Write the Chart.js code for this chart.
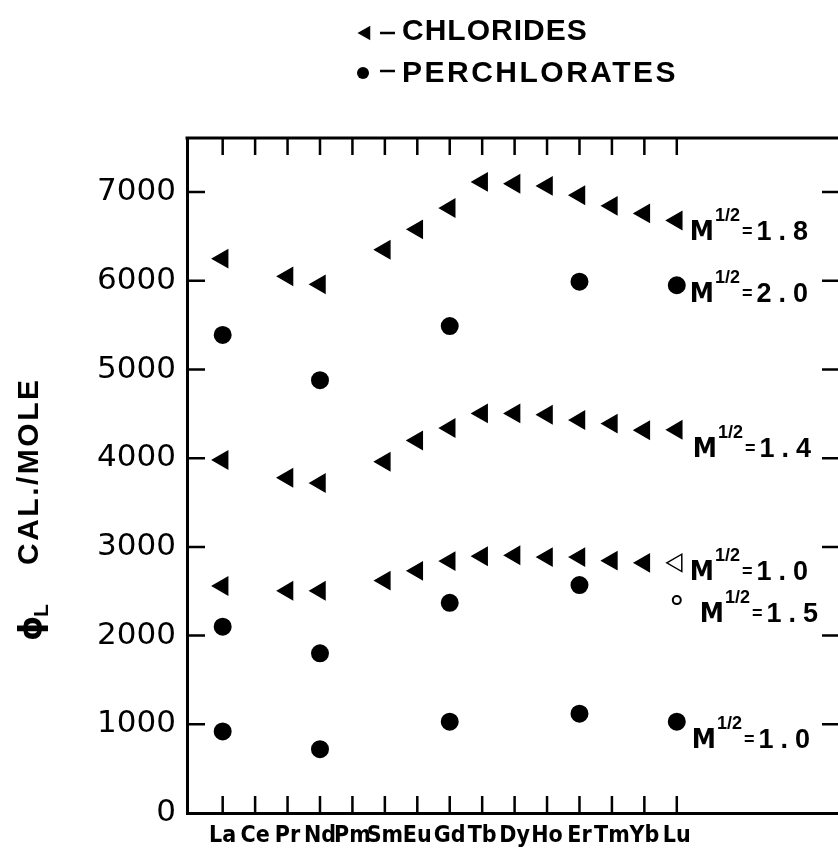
<!DOCTYPE html>
<html>
<head>
<meta charset="utf-8">
<title>Chlorides and perchlorates</title>
<script src="https://cdn.jsdelivr.net/npm/chart.js@4.4.1/dist/chart.umd.min.js"></script>
<style>
  html, body { margin: 0; padding: 0; background: #fff; overflow: hidden; }
  #chart { display: block; }
</style>
</head>
<body>
<canvas id="chart" width="838" height="855"></canvas>
<script>
// categories (rare earths) and y ticks
const elements = ['La', 'Ce', 'Pr', 'Nd', 'Pm', 'Sm', 'Eu', 'Gd', 'Tb', 'Dy', 'Ho', 'Er', 'Tm', 'Yb', 'Lu'];
const yTicks = [0, 1000, 2000, 3000, 4000, 5000, 6000, 7000];

// chlorides, phi_L cal/mole
const chl18 = [6250, null, 6050, 5960, null, 6350, 6580, 6820, 7115, 7095, 7070, 6965, 6845, 6760, 6680];
const chl14 = [3980, null, 3780, 3720, null, 3960, 4200, 4340, 4505, 4505, 4490, 4430, 4390, 4315, 4320];
const chl10 = [2560, null, 2505, 2505, null, 2620, 2730, 2840, 2895, 2905, 2885, 2885, 2845, 2820, 2820];

// perchlorates
const per20 = [5390, null, null, 4880, null, null, null, 5490, null, null, null, 5990, null, null, 5950];
const per15 = [2100, null, null, 1800, null, null, null, 2370, null, null, null, 2570, null, null, 2400];
const per10 = [920, null, null, 720, null, null, null, 1030, null, null, null, 1120, null, null, 1030];

const NUM_FONT = "'DejaVu Sans', sans-serif";
const TEXT_FONT = "'Liberation Sans', Arial, sans-serif";

// use a condensed face for the element names if one is installed
function hasFont(name) {
  const c = document.createElement('canvas').getContext('2d');
  const probe = 'LaCePrNdPmSmEu mmwwii';
  c.font = 'bold 40px monospace';
  const base = c.measureText(probe).width;
  c.font = `bold 40px '${name}', monospace`;
  return c.measureText(probe).width !== base;
}
const narrowName = ['Liberation Sans Narrow', 'DejaVu Sans Condensed', 'Roboto Condensed'].find(hasFont);
const LABEL_FONT = narrowName ? `'${narrowName}', sans-serif` : "Roboto, 'Liberation Sans', sans-serif";
const LABEL_SIZE = narrowName ? 23 : 21;

function toPoints(values) {
  return values.map((v, i) => ({ x: i, y: v })).filter(p => p.y !== null);
}

// last point drawn open
function openLast(values, fill) {
  const pts = toPoints(values);
  return pts.map((p, i) => (i === pts.length - 1 ? '#fff' : fill));
}

function triangleSet(label, values, tag, bg) {
  return {
    label: label,
    data: toPoints(values),
    pointStyle: 'triangle',
    pointRotation: -90,
    pointRadius: 10,
    pointBackgroundColor: bg || '#000',
    pointBorderColor: '#000',
    pointBorderWidth: 1.5,
    tag: tag
  };
}

function circleSet(label, values, tag, radius, bg) {
  return {
    label: label,
    data: toPoints(values),
    pointStyle: 'circle',
    pointRadius: radius || 8,
    pointBackgroundColor: bg || '#000',
    pointBorderColor: '#000',
    pointBorderWidth: 2,
    tag: tag
  };
}

// inward ticks and the top frame (right edge runs off the picture)
const framePlugin = {
  id: 'frame',
  afterDraw(chart) {
    const { ctx, chartArea: a, scales: { x, y } } = chart;
    const right = a.right + 3;
    ctx.save();
    ctx.strokeStyle = '#000';
    ctx.lineWidth = 3;
    ctx.beginPath();
    ctx.moveTo(a.left - 1.5, a.top);
    ctx.lineTo(right, a.top);
    ctx.stroke();

    ctx.lineWidth = 2.5;
    ctx.beginPath();
    elements.forEach((e, i) => {
      const px = x.getPixelForValue(i);
      ctx.moveTo(px, a.top);
      ctx.lineTo(px, a.top + 17);
      ctx.moveTo(px, a.bottom);
      ctx.lineTo(px, a.bottom - 17);
    });
    yTicks.forEach(v => {
      if (v === 0) return;
      const py = y.getPixelForValue(v);
      ctx.moveTo(a.left, py);
      ctx.lineTo(a.left + 18, py);
      ctx.moveTo(right, py);
      ctx.lineTo(right - 19, py);
    });
    ctx.stroke();
    ctx.restore();
  }
};

// M^1/2 = value labels next to the last point of each series
function drawTag(ctx, x, y, value) {
  ctx.fillStyle = '#000';
  ctx.textAlign = 'left';
  ctx.textBaseline = 'alphabetic';
  ctx.font = `bold 27px ${LABEL_FONT}`;
  ctx.fillText('M', x, y);
  let cx = x + ctx.measureText('M').width + 1;
  ctx.font = `bold 18px ${TEXT_FONT}`;
  ctx.fillText('1/2', cx, y - 19);
  cx += ctx.measureText('1/2').width + 2;
  ctx.font = `bold 18px ${TEXT_FONT}`;
  ctx.fillText('=', cx, y - 3);
  cx += ctx.measureText('=').width + 4;
  ctx.font = `bold 27px ${TEXT_FONT}`;
  ctx.letterSpacing = '7px';
  ctx.fillText(value, cx, y);
  ctx.letterSpacing = '0px';
}

const tagPlugin = {
  id: 'tags',
  afterDatasetsDraw(chart) {
    const ctx = chart.ctx;
    ctx.save();
    chart.data.datasets.forEach((ds, i) => {
      if (!ds.tag) return;
      const pts = chart.getDatasetMeta(i).data;
      const last = pts[pts.length - 1];
      drawTag(ctx, last.x + ds.tag.dx, last.y + ds.tag.dy, ds.tag.text);
    });
    ctx.restore();
  }
};

// legend at the top
const legendPlugin = {
  id: 'topLegend',
  afterDraw(chart) {
    const ctx = chart.ctx;
    ctx.save();
    ctx.fillStyle = '#000';
    ctx.strokeStyle = '#000';

    // triangle
    const r = 8.5, tx = 366, ty = 33;
    ctx.beginPath();
    ctx.moveTo(tx - r, ty);
    ctx.lineTo(tx + r / 2, ty - r * 0.866);
    ctx.lineTo(tx + r / 2, ty + r * 0.866);
    ctx.closePath();
    ctx.fill();

    // circle
    ctx.beginPath();
    ctx.arc(363, 73, 6, 0, Math.PI * 2);
    ctx.fill();

    ctx.lineWidth = 2.5;
    ctx.beginPath();
    ctx.moveTo(380, 33); ctx.lineTo(395, 33);
    ctx.moveTo(380, 71); ctx.lineTo(395, 71);
    ctx.stroke();

    ctx.font = `bold 30px ${TEXT_FONT}`;
    ctx.textAlign = 'left';
    ctx.textBaseline = 'alphabetic';
    ctx.letterSpacing = '1px';
    ctx.fillText('CHLORIDES', 402, 40);
    ctx.letterSpacing = '2.5px';
    ctx.fillText('PERCHLORATES', 402, 82);
    ctx.letterSpacing = '0px';
    ctx.restore();
  }
};

// rotated y axis title
const titlePlugin = {
  id: 'yTitle',
  afterDraw(chart) {
    const ctx = chart.ctx;
    ctx.save();
    ctx.translate(38, 641);
    ctx.rotate(-Math.PI / 2);
    ctx.fillStyle = '#000';
    ctx.textAlign = 'left';
    ctx.textBaseline = 'alphabetic';
    ctx.font = `bold 32px ${NUM_FONT}`;
    ctx.fillText('\u03D5', 0, 3);
    ctx.font = `bold 21px ${TEXT_FONT}`;
    ctx.fillText('L', 24, 10);
    ctx.font = `bold 30px ${TEXT_FONT}`;
    ctx.letterSpacing = '2.5px';
    ctx.fillText('CAL./MOLE', 76, 0);
    ctx.letterSpacing = '0px';
    ctx.restore();
  }
};

new Chart(document.getElementById('chart'), {
  type: 'scatter',
  data: {
    datasets: [
      triangleSet('Chlorides M1/2=1.8', chl18, { text: '1.8', dx: 13, dy: 20 }),
      triangleSet('Chlorides M1/2=1.4', chl14, { text: '1.4', dx: 16, dy: 27 }),
      triangleSet('Chlorides M1/2=1.0', chl10, { text: '1.0', dx: 13, dy: 17 }, openLast(chl10, '#000')),
      circleSet('Perchlorates M1/2=2.0', per20, { text: '2.0', dx: 13, dy: 17 }),
      circleSet('Perchlorates M1/2=1.5', per15, { text: '1.5', dx: 23, dy: 22 }, [8, 8, 8, 8, 4], openLast(per15, '#000')),
      circleSet('Perchlorates M1/2=1.0', per10, { text: '1.0', dx: 15, dy: 26 })
    ]
  },
  options: {
    responsive: false,
    animation: false,
    layout: { autoPadding: false, padding: { top: 138, right: 0, bottom: 0, left: 0 } },
    plugins: {
      legend: { display: false },
      tooltip: { enabled: false }
    },
    scales: {
      x: {
        type: 'linear',
        min: -1.1,
        max: 18.97,
        grid: { display: false, drawTicks: false },
        border: { display: true, color: '#000', width: 3 },
        afterBuildTicks: s => { s.ticks = elements.map((e, i) => ({ value: i })); },
        afterFit: s => { s.height = 42; },
        ticks: {
          autoSkip: false,
          maxRotation: 0,
          padding: 9,
          color: '#000',
          font: { family: LABEL_FONT, size: LABEL_SIZE, weight: 'bold' },
          callback: v => elements[v]
        }
      },
      y: {
        type: 'linear',
        min: 0,
        max: 7610,
        grid: { display: false, drawTicks: false },
        border: { display: true, color: '#000', width: 3 },
        afterBuildTicks: s => { s.ticks = yTicks.map(v => ({ value: v })); },
        afterFit: s => { s.width = 187; },
        ticks: {
          padding: 11,
          color: '#000',
          font: { family: NUM_FONT, size: 31 },
          callback: v => String(v)
        }
      }
    }
  },
  plugins: [framePlugin, tagPlugin, legendPlugin, titlePlugin]
});
</script>
</body>
</html>
